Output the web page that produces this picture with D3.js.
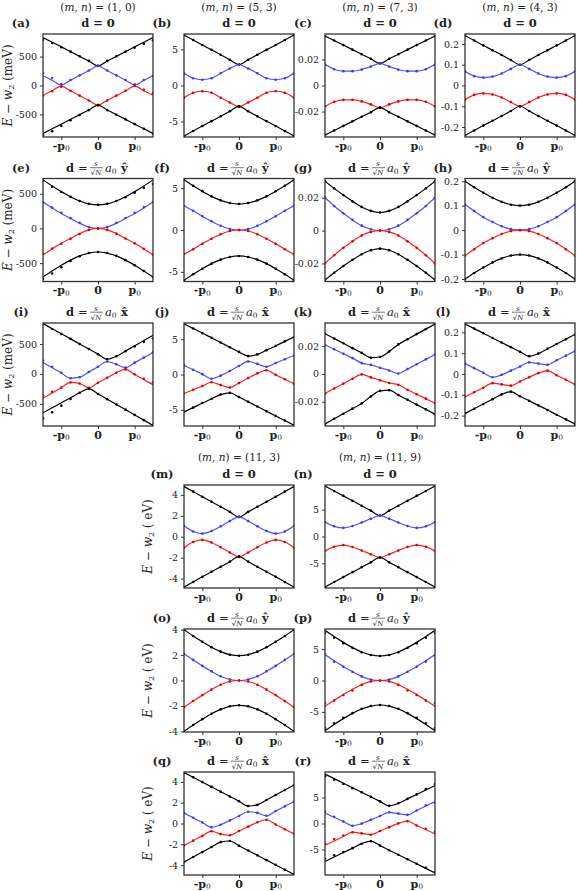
<!DOCTYPE html>
<html><head><meta charset="utf-8">
<script src="https://cdn.jsdelivr.net/npm/d3@7"></script>
<style>body{margin:0;background:#fff}text{font-family:"DejaVu Serif",serif;fill:#222}</style>
</head><body><svg id="c" width="577" height="891"></svg>
<script>
// momentum nodes in units of p0
const xs = [-1.5,-1.25,-1,-0.75,-0.5,-0.25,0,0.25,0.5,0.75,1,1.25,1.5];
const panelIds = ["a","b","c","d","e","f","g","h","i","j","k","l","m","n","o","p","q","r"];
const headers = ["(1, 0)","(5, 3)","(7, 3)","(4, 3)","(11, 3)","(11, 9)"];
const yDomains = {a:[-890,890],b:[-7.15,7.15],c:[-0.0395,0.0395],d:[-0.248,0.248],e:[-765,720],f:[-6.15,6.15],g:[-0.031,0.0317],h:[-0.21,0.211],
  i:[-870,850],j:[-7.3,7.3],k:[-0.0375,0.0367],l:[-0.25,0.245],m:[-4.9,4.95],n:[-9.6,9.6],o:[-4.05,4.05],p:[-8.2,8.2],q:[-4.95,4.95],r:[-9.9,9.9]};
const yTicks = {a:[-500,0,500],b:[-5,0,5],c:[-0.02,0,0.02],d:[-0.2,-0.1,0,0.1,0.2],e:[-500,0,500],f:[-5,0,5],g:[-0.02,0,0.02],h:[-0.2,-0.1,0,0.1,0.2],
  i:[-500,0,500],j:[-5,0,5],k:[-0.02,0,0.02],l:[-0.2,-0.1,0,0.1,0.2],m:[-4,-2,0,2,4],n:[-5,0,5],o:[-4,-2,0,2,4],p:[-5,0,5],q:[-4,-2,0,2,4],r:[-5,0,5]};
const yTickLabels = {a:["-500","0","500"],b:["-5","0","5"],c:["-0.02","0","0.02"],d:["-0.2","-0.1","0","0.1","0.2"],e:["-500","0","500"],f:["-5","0","5"],
  g:["-0.02","0","0.02"],h:["-0.2","-0.1","0","0.1","0.2"],i:["-500","0","500"],j:["-5","0","5"],k:["-0.02","0","0.02"],l:["-0.2","-0.1","0","0.1","0.2"],
  m:["-4","-2","0","2","4"],n:["-5","0","5"],o:["-4","-2","0","2","4"],p:["-5","0","5"],q:["-4","-2","0","2","4"],r:["-5","0","5"]};

// band values [black1, blue, red, black2]
const bandsA = [[830,748,667,585,503,422,340,422,503,585,667,748,830],[170,90,10,92,175,258,340,258,175,92,10,90,170],[-170,-90,-10,-92,-175,-258,-340,-258,-175,-92,-10,-90,-170],[-830,-748,-667,-585,-503,-422,-340,-422,-503,-585,-667,-748,-830]];
const dotsA = [[790,735,660,585,505,425,340,425,505,585,655,720,780],[215,130,25,95,175,258,340,258,175,95,20,95,165],[-175,-100,-20,-92,-175,-258,-340,-258,-175,-92,-5,-75,-135],[-860,-790,-700,-600,-510,-425,-340,-425,-505,-585,-667,-748,-835]];
const bandsB = [[7.0,6.32,5.63,4.95,4.27,3.58,2.9,3.58,4.27,4.95,5.63,6.32,7.0],[1.7,1.0,0.8,1.0,1.7,2.35,2.9,2.35,1.7,1.0,0.8,1.0,1.7],[-1.7,-1.0,-0.8,-1.0,-1.7,-2.35,-2.9,-2.35,-1.7,-1.0,-0.8,-1.0,-1.7],[-7.0,-6.32,-5.63,-4.95,-4.27,-3.58,-2.9,-3.58,-4.27,-4.95,-5.63,-6.32,-7.0]];
const bandsC = [[0.038,0.0345,0.031,0.0275,0.024,0.0205,0.017,0.0205,0.024,0.0275,0.031,0.0345,0.038],[0.016,0.0125,0.011,0.011,0.0122,0.0145,0.017,0.0145,0.0122,0.011,0.011,0.0125,0.016],[-0.016,-0.0125,-0.011,-0.011,-0.0122,-0.0145,-0.017,-0.0145,-0.0122,-0.011,-0.011,-0.0125,-0.016],[-0.038,-0.0345,-0.031,-0.0275,-0.024,-0.0205,-0.017,-0.0205,-0.024,-0.0275,-0.031,-0.0345,-0.038]];
const bandsD = [[0.24,0.217,0.193,0.17,0.147,0.123,0.1,0.123,0.147,0.17,0.193,0.217,0.24],[0.068,0.045,0.038,0.043,0.058,0.08,0.1,0.08,0.058,0.043,0.038,0.045,0.068],[-0.068,-0.045,-0.038,-0.043,-0.058,-0.08,-0.1,-0.08,-0.058,-0.043,-0.038,-0.045,-0.068],[-0.24,-0.217,-0.193,-0.17,-0.147,-0.123,-0.1,-0.123,-0.147,-0.17,-0.193,-0.217,-0.24]];
const bandsE = [[700,613,531,457,396,355,340,355,396,457,531,613,700],[380,295,215,145,75,20,0,20,75,145,215,295,380],[-380,-295,-215,-145,-75,-20,0,-20,-75,-145,-215,-295,-380],[-700,-613,-531,-457,-396,-355,-340,-355,-396,-457,-531,-613,-700]];
const dotsE = [[690,600,525,457,396,355,340,355,396,450,515,585,640],[375,300,225,150,80,20,0,20,80,150,225,310,380],[-365,-290,-220,-150,-80,-20,0,-20,-75,-145,-215,-295,-375],[-730,-650,-560,-470,-400,-355,-340,-355,-396,-457,-531,-613,-700]];
const bandsF = [[6.0,5.28,4.62,4.02,3.54,3.22,3.1,3.22,3.54,4.02,4.62,5.28,6.0],[2.9,2.3,1.65,1.05,0.5,0.12,0,0.12,0.5,1.05,1.65,2.3,2.9],[-2.9,-2.3,-1.65,-1.05,-0.5,-0.12,0,-0.12,-0.5,-1.05,-1.65,-2.3,-2.9],[-6.0,-5.28,-4.62,-4.02,-3.54,-3.22,-3.1,-3.22,-3.54,-4.02,-4.62,-5.28,-6.0]];
const bandsG = [[0.030,0.0257,0.0216,0.0178,0.0144,0.0120,0.011,0.0120,0.0144,0.0178,0.0216,0.0257,0.030],[0.020,0.015,0.0105,0.0065,0.003,0.0008,0,0.0008,0.003,0.0065,0.0105,0.015,0.020],[-0.020,-0.015,-0.0105,-0.0065,-0.003,-0.0008,0,-0.0008,-0.003,-0.0065,-0.0105,-0.015,-0.020],[-0.030,-0.0257,-0.0216,-0.0178,-0.0144,-0.0120,-0.011,-0.0120,-0.0144,-0.0178,-0.0216,-0.0257,-0.030]];
const bandsH = [[0.2,0.1755,0.153,0.132,0.1155,0.104,0.1,0.104,0.1155,0.132,0.153,0.1755,0.2],[0.105,0.078,0.053,0.033,0.016,0.004,0,0.004,0.016,0.033,0.053,0.078,0.105],[-0.105,-0.078,-0.053,-0.033,-0.016,-0.004,0,-0.004,-0.016,-0.033,-0.053,-0.078,-0.105],[-0.2,-0.1755,-0.153,-0.132,-0.1155,-0.104,-0.1,-0.104,-0.1155,-0.132,-0.153,-0.1755,-0.2]];
const bandsI = [[840,755,670,585,500,415,330,245,294,382,469,557,644],[190,102,15,-72,-55,32,119,207,160,104,188,271,355],[-405,-318,-230,-143,-160,-231,-147,-64,20,75,-10,-95,-180],[-650,-566,-482,-399,-315,-247,-335,-422,-510,-597,-685,-772,-860]];
const dotsI = [[830,750,665,585,500,415,330,245,294,380,460,535,590],[225,120,20,-72,-55,32,119,207,160,104,188,271,360],[-360,-300,-230,-143,-160,-231,-147,-64,20,75,-5,-80,-140],[-740,-640,-530,-420,-315,-247,-335,-422,-510,-597,-685,-772,-850]];
const bandsJ = [[7.2,6.53,5.87,5.2,4.53,3.87,3.2,2.6,2.85,3.45,4.05,4.7,5.3],[1.3,0.68,0.05,-0.6,-0.16,0.5,1.2,1.85,1.5,1.1,1.63,2.16,2.7],[-2.7,-2.16,-1.63,-1.1,-1.5,-1.85,-1.2,-0.5,0.16,0.6,-0.05,-0.68,-1.3],[-5.3,-4.7,-4.05,-3.45,-2.85,-2.6,-3.2,-3.87,-4.53,-5.2,-5.87,-6.53,-7.2]];
const bandsK = [[0.029,0.0255,0.0221,0.0186,0.0152,0.0117,0.0122,0.0162,0.0213,0.025,0.0287,0.0323,0.036],[0.021,0.0178,0.0146,0.0114,0.0078,0.0065,0.0045,0.0025,0.0003,0.0035,0.007,0.0105,0.014],[-0.014,-0.0105,-0.007,-0.0035,-0.0003,-0.0025,-0.0045,-0.0065,-0.0078,-0.0114,-0.0146,-0.0178,-0.021],[-0.036,-0.0323,-0.0287,-0.025,-0.0213,-0.0162,-0.0122,-0.0117,-0.0152,-0.0186,-0.0221,-0.0255,-0.029]];
const bandsL = [[0.24,0.218,0.196,0.173,0.151,0.129,0.107,0.085,0.098,0.121,0.144,0.167,0.19],[0.05,0.028,0.006,-0.016,-0.004,0.016,0.036,0.056,0.05,0.044,0.066,0.088,0.11],[-0.11,-0.088,-0.066,-0.044,-0.05,-0.056,-0.036,-0.016,0.004,0.016,-0.006,-0.028,-0.05],[-0.19,-0.167,-0.144,-0.121,-0.098,-0.085,-0.107,-0.129,-0.151,-0.173,-0.196,-0.218,-0.24]];
const bandsM = [[4.8,4.32,3.83,3.35,2.87,2.38,1.9,2.38,2.87,3.35,3.83,4.32,4.8],[1.05,0.5,0.3,0.55,1.0,1.5,1.9,1.5,1.0,0.55,0.3,0.5,1.05],[-1.05,-0.5,-0.3,-0.55,-1.0,-1.5,-1.9,-1.5,-1.0,-0.55,-0.3,-0.5,-1.05],[-4.8,-4.32,-3.83,-3.35,-2.87,-2.38,-1.9,-2.38,-2.87,-3.35,-3.83,-4.32,-4.8]];
const bandsN = [[9.4,8.48,7.57,6.65,5.73,4.82,3.9,4.82,5.73,6.65,7.57,8.48,9.4],[2.7,1.9,1.6,1.95,2.6,3.3,3.9,3.3,2.6,1.95,1.6,1.9,2.7],[-2.7,-1.9,-1.6,-1.95,-2.6,-3.3,-3.9,-3.3,-2.6,-1.95,-1.6,-1.9,-2.7],[-9.4,-8.48,-7.57,-6.65,-5.73,-4.82,-3.9,-4.82,-5.73,-6.65,-7.57,-8.48,-9.4]];
const bandsO = [[4.0,3.5,3.04,2.62,2.27,2.03,1.95,2.03,2.27,2.62,3.04,3.5,4.0],[2.1,1.62,1.15,0.72,0.33,0.08,0,0.08,0.33,0.72,1.15,1.62,2.1],[-2.1,-1.62,-1.15,-0.72,-0.33,-0.08,0,-0.08,-0.33,-0.72,-1.15,-1.62,-2.1],[-4.0,-3.5,-3.04,-2.62,-2.27,-2.03,-1.95,-2.03,-2.27,-2.62,-3.04,-3.5,-4.0]];
const bandsP = [[8.0,7.0,6.07,5.23,4.54,4.07,3.9,4.07,4.54,5.23,6.07,7.0,8.0],[4.1,3.15,2.25,1.4,0.65,0.15,0,0.15,0.65,1.4,2.25,3.15,4.1],[-4.1,-3.15,-2.25,-1.4,-0.65,-0.15,0,-0.15,-0.65,-1.4,-2.25,-3.15,-4.1],[-8.0,-7.0,-6.07,-5.23,-4.54,-4.07,-3.9,-4.07,-4.54,-5.23,-6.07,-7.0,-8.0]];
const dotsP = [[7.6,6.8,5.95,5.2,4.5,4.07,3.9,4.07,4.5,5.2,5.95,6.8,7.6],[4.2,3.0,2.2,1.4,0.65,0.15,0,0.15,0.65,1.4,2.2,3.0,4.0],[-3.6,-3.2,-2.3,-1.6,-0.7,-0.15,0,-0.15,-0.7,-1.6,-2.3,-3.2,-3.6],[-7.6,-6.8,-5.95,-5.2,-4.5,-4.07,-3.9,-4.07,-4.5,-5.2,-5.95,-6.8,-7.6]];
const bandsQ = [[4.9,4.44,3.98,3.52,3.06,2.6,2.14,1.68,1.79,2.26,2.74,3.22,3.7],[1.0,0.55,0.09,-0.36,-0.12,0.3,0.72,1.13,1.02,0.74,1.19,1.65,2.1],[-2.1,-1.65,-1.19,-0.74,-1.02,-1.13,-0.72,-0.3,0.12,0.36,-0.09,-0.55,-1.0],[-3.7,-3.22,-2.74,-2.26,-1.79,-1.68,-2.14,-2.6,-3.06,-3.52,-3.98,-4.44,-4.9]];
const bandsR = [[9.5,8.63,7.75,6.88,6.0,5.13,4.25,3.4,3.88,4.74,5.59,6.45,7.3],[2.0,1.19,0.38,-0.44,-0.02,0.7,1.43,2.15,1.9,1.67,2.51,3.36,4.2],[-4.2,-3.36,-2.51,-1.67,-1.9,-2.15,-1.43,-0.7,0.02,0.44,-0.38,-1.19,-2.0],[-7.3,-6.45,-5.59,-4.74,-3.88,-3.4,-4.25,-5.13,-6.0,-6.88,-7.75,-8.63,-9.5]];
const dotsR = [[9.1,8.4,7.6,6.8,6.0,5.13,4.25,3.4,3.88,4.74,5.59,6.6,7.6],[2.3,1.3,0.4,-0.44,-0.02,0.7,1.43,2.15,1.9,1.67,2.51,3.5,4.0],[-3.9,-3.0,-2.3,-1.67,-1.9,-2.15,-1.43,-0.7,0.02,0.44,-0.38,-1.0,-1.6],[-6.8,-6.1,-5.5,-4.74,-3.88,-3.4,-4.25,-5.13,-6.0,-6.88,-7.75,-8.5,-9.3]];

const bands = {a:bandsA,b:bandsB,c:bandsC,d:bandsD,e:bandsE,f:bandsF,g:bandsG,h:bandsH,i:bandsI,j:bandsJ,k:bandsK,l:bandsL,m:bandsM,n:bandsN,o:bandsO,p:bandsP,q:bandsQ,r:bandsR};
const dots = {a:dotsA,e:dotsE,i:dotsI,p:dotsP,r:dotsR};
const dType = {a:"0",b:"0",c:"0",d:"0",e:"y",f:"y",g:"y",h:"y",i:"x",j:"x",k:"x",l:"x",m:"0",n:"0",o:"y",p:"y",q:"x",r:"x"};
const colors = ["#000000","#4f4fff","#ff1f1f","#000000"];

const svg = d3.select("#c");
const W = 110, H = 103;
const colX = [43,184,325,465], rowY = [34,178.5,323];
const pos = {};
panelIds.slice(0,12).forEach((id,i)=>{pos[id]=[colX[i%4],rowY[Math.floor(i/4)]];});
const lowY=[485,629,772];
["m","n","o","p","q","r"].forEach((id,i)=>{pos[id]=[[184,325][i%2],lowY[Math.floor(i/2)]];});

function title(g, cx, y, t){
  if(t==="0"){ g.append("text").attr("x",cx).attr("y",y).attr("font-size",11.5).attr("text-anchor","middle").attr("font-weight","bold").text("d = 0"); return; }
  const x0 = cx-32;
  g.append("text").attr("x",x0).attr("y",y).attr("font-size",11.5).attr("font-weight","bold").text("d");
  g.append("text").attr("x",x0+12).attr("y",y).attr("font-size",11.5).text("=");
  g.append("text").attr("x",x0+30).attr("y",y-5.5).attr("font-size",7).attr("font-style","italic").attr("text-anchor","middle").text("s");
  g.append("line").attr("x1",x0+24).attr("x2",x0+37).attr("y1",y-3.8).attr("y2",y-3.8).attr("stroke","#222").attr("stroke-width",0.6);
  g.append("text").attr("x",x0+30).attr("y",y+3.5).attr("font-size",7).attr("text-anchor","middle").html("√<tspan font-style='italic'>N</tspan>");
  const a = g.append("text").attr("x",x0+39).attr("y",y).attr("font-size",11.5);
  a.append("tspan").attr("font-style","italic").text("a");
  a.append("tspan").attr("font-size",7.5).attr("dy",2).text("0");
  g.append("text").attr("x",x0+55).attr("y",y).attr("font-size",11.5).attr("font-weight","bold").text(t==="y"?"ŷ":"x̂");
}

panelIds.forEach(id=>{
  const [px,py] = pos[id];
  const g = svg.append("g").attr("transform",`translate(${px},${py})`);
  const x = d3.scaleLinear().domain([-1.5,1.5]).range([0,W]);
  const y = d3.scaleLinear().domain(yDomains[id]).range([H,0]);
  const clip = "clip"+id;
  g.append("clipPath").attr("id",clip).append("rect").attr("width",W).attr("height",H);
  const pg = g.append("g").attr("clip-path",`url(#${clip})`);
  const line = d3.line().x((d,i)=>x(xs[i])).y(d=>y(d)).curve(d3.curveMonotoneX);
  bands[id].forEach((b,k)=>{
    pg.append("path").attr("d",line(b)).attr("fill","none").attr("stroke",colors[k]).attr("stroke-width",1.2);
  });
  (dots[id]||bands[id]).forEach((b,k)=>{
    pg.selectAll(null).data(b).enter().append("circle").attr("cx",(d,i)=>x(xs[i])).attr("cy",d=>y(d)).attr("r",1.3).attr("fill",k===1?"#3a3aff":k===2?"#e00000":"#000");
  });
  g.append("rect").attr("width",W).attr("height",H).attr("fill","none").attr("stroke","#333").attr("stroke-width",1.3);
  const ya = g.append("g").call(d3.axisLeft(y).tickValues(yTicks[id]).tickSize(3).tickFormat((d,i)=>yTickLabels[id][i]));
  ya.select(".domain").remove();
  ya.selectAll("text").attr("font-size",9.5).attr("font-family","DejaVu Serif").attr("fill","#222");
  ya.selectAll("line").attr("stroke","#333");
  const xa = g.append("g").attr("transform",`translate(0,${H})`).call(d3.axisBottom(x).tickValues([-1,0,1]).tickSize(3).tickFormat(""));
  xa.select(".domain").remove(); xa.selectAll("line").attr("stroke","#333");
  [[-1,"-p"],[0,"0"],[1,"p"]].forEach(([v,s])=>{
    const t = g.append("text").attr("x",x(v)).attr("y",H+12.5).attr("font-size",11).attr("font-weight","bold").attr("text-anchor","middle");
    t.append("tspan").text(s);
    if(s!=="0") t.append("tspan").attr("font-size",7.5).attr("font-weight","normal").attr("dy",1.5).text("0");
  });
  g.append("text").attr("x",-22).attr("y",-7).attr("font-size",11.5).attr("font-weight","bold").attr("text-anchor","middle").text(`(${id})`);
  title(g, W/2, -7, dType[id]);
});

function header(cx,yy,s){
  const t = svg.append("text").attr("x",cx).attr("y",yy).attr("font-size",10.5).attr("text-anchor","middle");
  t.append("tspan").text("(");t.append("tspan").attr("font-style","italic").text("m");t.append("tspan").text(", ");
  t.append("tspan").attr("font-style","italic").text("n");t.append("tspan").text(") = "+s);
}
colX.forEach((cx,i)=>header(cx+W/2,11,headers[i]));
header(184+W/2,461,headers[4]); header(325+W/2,461,headers[5]);

function ylab(xx,yy,unit){
  const t = svg.append("text").attr("transform",`translate(${xx},${yy}) rotate(-90)`).attr("font-size",12).attr("text-anchor","middle");
  t.append("tspan").attr("font-style","italic").text("E");t.append("tspan").text(" − ");
  t.append("tspan").attr("font-style","italic").text("w");t.append("tspan").attr("font-size",8).attr("dy",2).text("2");
  t.append("tspan").attr("dy",-2).text(unit);
}
rowY.forEach(ry=>ylab(12,ry+H/2,"  (meV)"));
lowY.forEach(ry=>ylab(152,ry+H/2,"  (  eV)"));
</script></body></html>
